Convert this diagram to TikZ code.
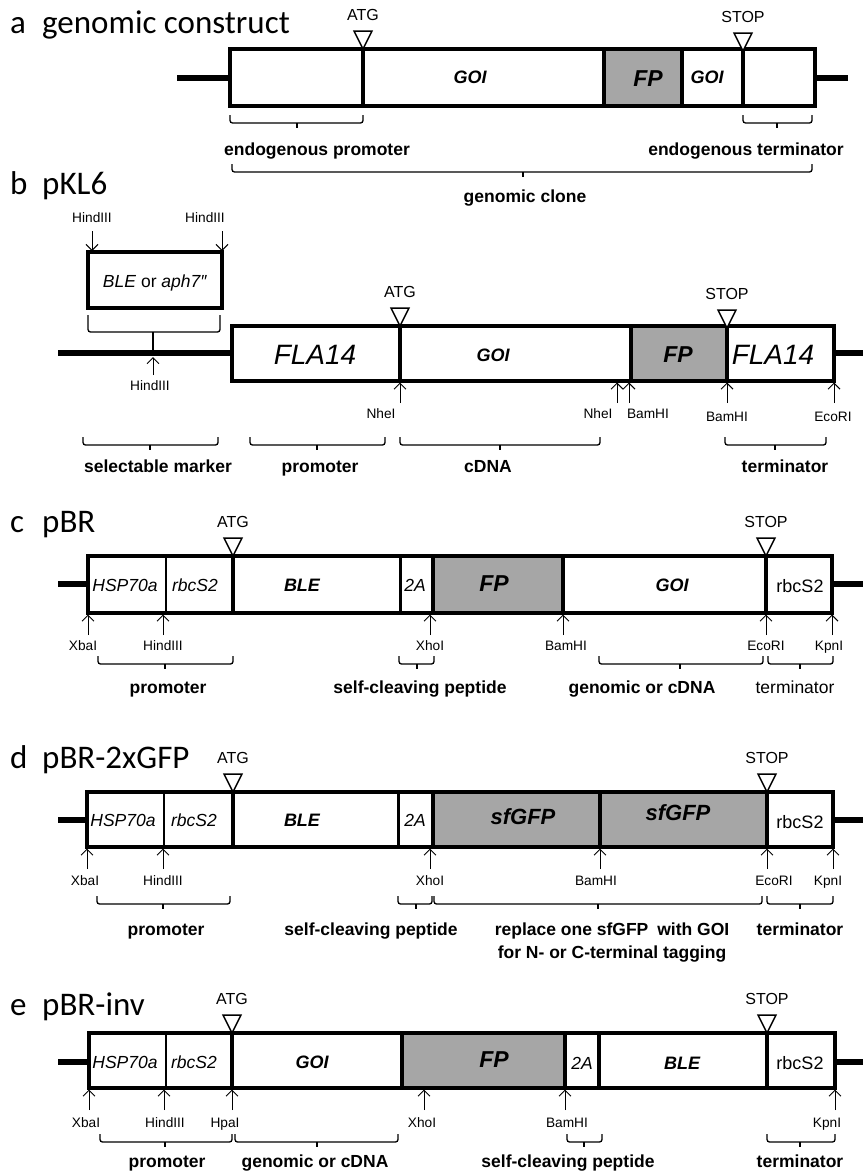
\documentclass[tikz,border=0pt]{standalone}
\usepackage{fontspec}
\setmainfont{Liberation Sans}
\newfontfamily\titlefont{Carlito}
\usetikzlibrary{arrows.meta}
\definecolor{fpgrey}{RGB}{166,166,166}
\newcommand\codon[3]{%
  \draw[tri] (#1-9,#2-18) -- (#1+9,#2-18) -- (#1,#2) -- cycle;
  \node[codonlab] at (#1,#2-29) {#3};}
\newcommand\rsite[5]{%
  \draw[sitearrow] (#1,#2+22) -- (#1,#2+1.5);
  \node[sitelab] at (#3,#4) {#5};}
\newcommand\mybrace[4]{%
  \draw[brc] (#1,#4) -- (#1,#4+8) -- (#2,#4+8) -- (#2,#4);
  \draw[brc] (#3,#4+8) -- (#3,#4+13);}
\begin{document}
\begin{tikzpicture}[x=1pt,y=-1pt,
  backbone/.style={line width=5.5pt},
  outline/.style={line width=3.5pt},
  thindiv/.style={line width=2.3pt},
  meddiv/.style={line width=3pt},
  thickdiv/.style={line width=4pt},
  tri/.style={draw, fill=white, line width=1.5pt},
  sitearrow/.style={line width=1pt, -{Straight Barb[length=6pt,width=12pt,line width=1pt]}},
  brc/.style={line width=1.3pt, rounded corners=2.5pt},
  title/.style={font=\titlefont\fontsize{33}{36}\selectfont, anchor=base west, inner sep=0},
  lab/.style={font=\fontsize{17.5}{23}\bfseries\selectfont, inner sep=0, anchor=base},
  labn/.style={font=\fontsize{17.5}{20}\selectfont, inner sep=0},
  sitelab/.style={font=\fontsize{13.7}{15}\selectfont, inner sep=0, anchor=base},
  codonlab/.style={font=\fontsize{16}{18}\selectfont, inner sep=0, anchor=base},
  goi/.style={font=\fontsize{18}{20}\bfseries\itshape\selectfont, inner sep=0},
  fp/.style={font=\fontsize{23}{25}\bfseries\itshape\selectfont, inner sep=0},
  sfgfp/.style={font=\fontsize{22}{24}\bfseries\itshape\selectfont, inner sep=0},
  fla/.style={font=\fontsize{28}{30}\itshape\selectfont, inner sep=0},
  geneit/.style={font=\fontsize{17.5}{20}\itshape\selectfont, inner sep=0},
  gene/.style={font=\fontsize{18}{20}\selectfont, inner sep=0}
]
\useasboundingbox (0,0) rectangle (863,1173);

% ---------------- panel a
\node[title] (ta) at (10,33) {\makebox[32pt][l]{a}genomic construct};
\draw[backbone] (177,78) -- (230,78) (815,78) -- (848,78);
\fill[fpgrey] (604,49) rectangle (682,106);
\draw[thickdiv] (363,49) -- (363,106) (604,49) -- (604,106) (682,49) -- (682,106) (743,49) -- (743,106);
\draw[outline] (230,49) rectangle (815,106);
\codon{363}{49}{ATG}
\codon{743}{51}{STOP}
\node[goi] (a1) at (470,77) {GOI};
\node[fp] (a2) at (648,79) {FP};
\node[goi] (a3) at (707,77) {GOI};
\mybrace{230}{363}{297}{115}
\node[lab] (a4) at (317,155) {endogenous promoter};
\mybrace{743}{812}{777}{115}
\node[lab] (a5) at (746,155) {endogenous terminator};
\mybrace{232}{812}{523}{164}
\node[lab] (a6) at (525,202) {genomic clone};

% ---------------- panel b
\node[title] (tb) at (10,194) {\makebox[32pt][l]{b}pKL6};
\draw[backbone] (58,353) -- (232,353) (834,353) -- (863,353);
\draw[outline] (88,252) rectangle (222,308);
\node[labn] (b0) at (155,283) {\textit{BLE} or \textit{aph7\char"2033}};
\draw[sitearrow] (92,231) -- (92,251);
\node[sitelab] (b1) at (92,222) {HindIII};
\draw[sitearrow] (222,231) -- (222,251);
\node[sitelab] (b2) at (205,222) {HindIII};
\draw[brc] (88,315) -- (88,332) -- (220,332) -- (220,315);
\draw[brc] (153,332) -- (153,351);
\draw[sitearrow] (153,375) -- (153,357);
\node[sitelab] (b3) at (150,390) {HindIII};
\fill[fpgrey] (631,326) rectangle (727,381);
\draw[thickdiv] (400,326) -- (400,381) (631,326) -- (631,381) (727,326) -- (727,381);
\draw[outline] (232,326) rectangle (834,381);
\codon{400}{326}{ATG}
\codon{727}{328}{STOP}
\node[fla] (b4) at (315,355) {FLA14};
\node[goi] (b5) at (493,355) {GOI};
\node[fp] (b6) at (678,355) {FP};
\node[fla] (b7) at (773,355) {FLA14};
\rsite{400}{381}{381}{418}{NheI}
\rsite{617}{381}{598}{418}{NheI}
\rsite{629}{381}{648}{418}{BamHI}
\rsite{727}{381}{727}{421}{BamHI}
\rsite{834}{381}{833}{421}{EcoRI}
\mybrace{83}{218}{150}{437}
\node[lab] (b8) at (158,472) {selectable marker};
\mybrace{250}{385}{317}{437}
\node[lab] (b9) at (320,472) {promoter};
\mybrace{400}{600}{500}{437}
\node[lab] (b10) at (488,472) {cDNA};
\mybrace{725}{826}{775}{437}
\node[lab] (b11) at (785,472) {terminator};

% ---------------- panel c
\node[title] (tc) at (10,532) {\makebox[32pt][l]{c}pBR};
\draw[backbone] (58,584) -- (88,584) (832,584) -- (863,584);
\fill[fpgrey] (433,556) rectangle (563,613);
\draw[thindiv] (166,556) -- (166,613);
\draw[meddiv] (400,556) -- (400,613);
\draw[thickdiv] (233,556) -- (233,613) (433,556) -- (433,613) (563,556) -- (563,613) (766,556) -- (766,613);
\draw[outline] (88,556) rectangle (832,613);
\codon{233}{556}{ATG}
\codon{766}{556}{STOP}
\node[geneit] (c1) at (125,585) {HSP70a};
\node[geneit] (c2) at (195,585) {rbcS2};
\node[goi] (c3) at (302,585) {BLE};
\node[geneit] (c4) at (415,585) {2A};
\node[fp] (c5) at (494,584) {FP};
\node[goi] (c6) at (672,585) {GOI};
\node[gene] (c7) at (800,586) {rbcS2};
\rsite{88}{613}{83}{650}{XbaI}
\rsite{163}{613}{163}{650}{HindIII}
\rsite{430}{613}{430}{650}{XhoI}
\rsite{563}{613}{566}{650}{BamHI}
\rsite{766}{613}{766}{650}{EcoRI}
\rsite{832}{613}{829}{650}{KpnI}
\mybrace{98}{233}{165}{656}
\node[lab] (c8) at (168,693) {promoter};
\mybrace{399}{434}{417}{656}
\node[lab] (c9) at (420,693) {self-cleaving peptide};
\mybrace{599}{763}{680}{656}
\node[lab] (c10) at (642,693) {genomic or cDNA};
\mybrace{768}{833}{800}{656}
\node[labn, anchor=base] (c11) at (795,693) {terminator};

% ---------------- panel d
\node[title] (td) at (10,768) {\makebox[32pt][l]{d}pBR-2xGFP};
\draw[backbone] (58,820) -- (87,820) (833,820) -- (863,820);
\fill[fpgrey] (433,792) rectangle (767,847);
\draw[thindiv] (164,792) -- (164,847);
\draw[meddiv] (398,792) -- (398,847);
\draw[thickdiv] (233,792) -- (233,847) (433,792) -- (433,847) (600,792) -- (600,847) (767,792) -- (767,847);
\draw[outline] (87,792) rectangle (833,847);
\codon{233}{792}{ATG}
\codon{767}{792}{STOP}
\node[geneit] (d1) at (123,820) {HSP70a};
\node[geneit] (d2) at (194,820) {rbcS2};
\node[goi] (d3) at (302,820) {BLE};
\node[geneit] (d4) at (415,820) {2A};
\node[sfgfp] (d5) at (523,817) {sfGFP};
\node[sfgfp] (d6) at (678,813) {sfGFP};
\node[gene] (d7) at (800,822) {rbcS2};
\rsite{87}{847}{85}{885}{XbaI}
\rsite{163}{847}{163}{885}{HindIII}
\rsite{430}{847}{430}{885}{XhoI}
\rsite{600}{847}{596}{885}{BamHI}
\rsite{767}{847}{774}{885}{EcoRI}
\rsite{833}{847}{828}{885}{KpnI}
\mybrace{97}{230}{163}{896}
\node[lab] (d8) at (166,935) {promoter};
\mybrace{398}{432}{416}{896}
\node[lab] (d9) at (371,935) {self-cleaving peptide};
\mybrace{434}{762}{598}{896}
\node[lab] (d10) at (612,935) {replace one sfGFP\hspace{4pt} with GOI};
\node[lab] (d10b) at (612,958) {for N- or C-terminal tagging};
\mybrace{767}{833}{800}{896}
\node[lab] (d11) at (800,935) {terminator};

% ---------------- panel e
\node[title] (te) at (10,1015) {\makebox[32pt][l]{e}pBR-inv};
\draw[backbone] (58,1062) -- (89,1062) (835,1062) -- (863,1062);
\fill[fpgrey] (402,1033) rectangle (565,1088);
\draw[thindiv] (166,1033) -- (166,1088);
\draw[thickdiv] (232,1033) -- (232,1088) (402,1033) -- (402,1088) (565,1033) -- (565,1088) (599,1033) -- (599,1088) (767,1033) -- (767,1088);
\draw[outline] (89,1033) rectangle (835,1088);
\codon{232}{1033}{ATG}
\codon{767}{1033}{STOP}
\node[geneit] (e1) at (125,1062) {HSP70a};
\node[geneit] (e2) at (194,1062) {rbcS2};
\node[goi] (e3) at (312,1062) {GOI};
\node[fp] (e4) at (494,1060) {FP};
\node[geneit] (e5) at (582,1063) {2A};
\node[goi] (e6) at (682,1063) {BLE};
\node[gene] (e7) at (800,1063) {rbcS2};
\rsite{89}{1088}{86}{1127}{XbaI}
\rsite{164}{1088}{165}{1127}{HindIII}
\rsite{232}{1088}{225}{1127}{HpaI}
\rsite{424}{1088}{422}{1127}{XhoI}
\rsite{565}{1088}{567}{1127}{BamHI}
\rsite{835}{1088}{827}{1127}{KpnI}
\mybrace{100}{232}{165}{1134}
\node[lab] (e8) at (167,1167) {promoter};
\mybrace{235}{398}{317}{1134}
\node[lab] (e9) at (315,1167) {genomic or cDNA};
\mybrace{567}{602}{584}{1134}
\node[lab] (e10) at (568,1167) {self-cleaving peptide};
\mybrace{767}{835}{800}{1134}
\node[lab] (e11) at (800,1167) {terminator};
\end{tikzpicture}
\end{document}
